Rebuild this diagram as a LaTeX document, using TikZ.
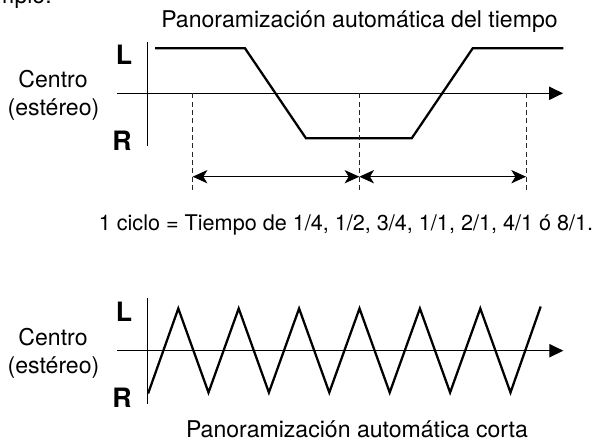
\documentclass[tikz,border=0pt]{standalone}
\usepackage{fontspec}
\setmainfont{TeX Gyre Heros}
\usetikzlibrary{arrows.meta}
\begin{document}
\begin{tikzpicture}[x=0.75pt,y=-0.75pt,
  txt/.style={font=\fontsize{17.3}{20}\selectfont, inner sep=0pt, anchor=base},
  cyctxt/.style={font=\fontsize{16.2}{19}\selectfont, inner sep=0pt, anchor=base},
  lr/.style={font=\fontsize{20}{23}\selectfont\bfseries, inner sep=0pt},
  axisline/.style={line width=0.8pt},
  axisarrow/.style={axisline, -{Triangle[length=10.5pt,width=10pt]}},
  wave/.style={line width=1.7pt, line join=miter},
  guide/.style={line width=0.75pt, dash pattern=on 3.75pt off 2.5pt, black!85},
  spanarrow/.style={line width=0.75pt, {Stealth[length=11pt,width=10pt,inset=3pt]}-{Stealth[length=11pt,width=10pt,inset=3pt]}}
]
\useasboundingbox (0,0) rectangle (607,443);
\clip (0,0) rectangle (607,443);

% partial heading cut by the page edge
\node[txt, anchor=base east] (ej) at (52,3) {ejemplo:};

% ---------- upper diagram ----------
\node[txt] (t1) at (359.5,27) {Panoramización automática del tiempo};

\coordinate (v1t) at (147.3,41.7);
\coordinate (v1b) at (147.3,146);
\coordinate (h1s) at (117.3,93.3);
\coordinate (h1e) at (563,93.3);
\draw[axisline] (v1t) -- (v1b);
\draw[axisarrow] (h1s) -- (h1e);

\node[lr] (L1) at (124,55) {L};
\node[lr] (R1) at (122,141) {R};
\node[txt] (c1) at (53,87) {Centro};
\node[txt] (s1) at (53.5,115) {(estéreo)};

\coordinate (a1) at (155,48.3);
\coordinate (a2) at (245,48.3);
\coordinate (a3) at (306,138.3);
\coordinate (a4) at (411.7,138.3);
\coordinate (a5) at (472.7,48.3);
\coordinate (a6) at (563.3,48.3);
\draw[wave] (a1) -- (a2) -- (a3) -- (a4) -- (a5) -- (a6);

\coordinate (g1t) at (192.7,93.3);  \coordinate (g1b) at (192.7,191);
\coordinate (g2t) at (359.3,93.3);  \coordinate (g2b) at (359.3,191);
\coordinate (g3t) at (526,93.3);    \coordinate (g3b) at (526,191);
\draw[guide] (g1t) -- (g1b);
\draw[guide] (g2t) -- (g2b);
\draw[guide] (g3t) -- (g3b);

\coordinate (m1) at (192.7,176.7);
\coordinate (m2) at (359.3,176.7);
\coordinate (m3) at (526,176.7);
\draw[spanarrow] (m1) -- (m2);
\draw[spanarrow] (m2) -- (m3);

\node[cyctxt] (cyc) at (346,230) {1 ciclo = Tiempo de 1/4, 1/2, 3/4, 1/1, 2/1, 4/1 ó 8/1.};

% ---------- lower diagram ----------
\coordinate (v2t) at (147.3,298.3);
\coordinate (v2b) at (147.3,404);
\coordinate (h2s) at (117.3,350.7);
\coordinate (h2e) at (563.3,350.7);
\draw[axisline] (v2t) -- (v2b);
\draw[axisarrow] (h2s) -- (h2e);

\node[lr] (L2) at (124,312) {L};
\node[lr] (R2) at (122,398) {R};
\node[txt] (c2) at (53,345) {Centro};
\node[txt] (s2) at (53.5,373) {(estéreo)};

\coordinate (z0) at (148.1,393.5);
\coordinate (zend) at (540.7,306.5);
\draw[wave] (z0)
  \foreach \k in {0,...,5} { -- (178.3+60.4*\k,308.5) -- (208.5+60.4*\k,392.5) }
  -- (zend);

\node[txt] (t2) at (357,437) {Panoramización automática corta};
\end{tikzpicture}
\end{document}
